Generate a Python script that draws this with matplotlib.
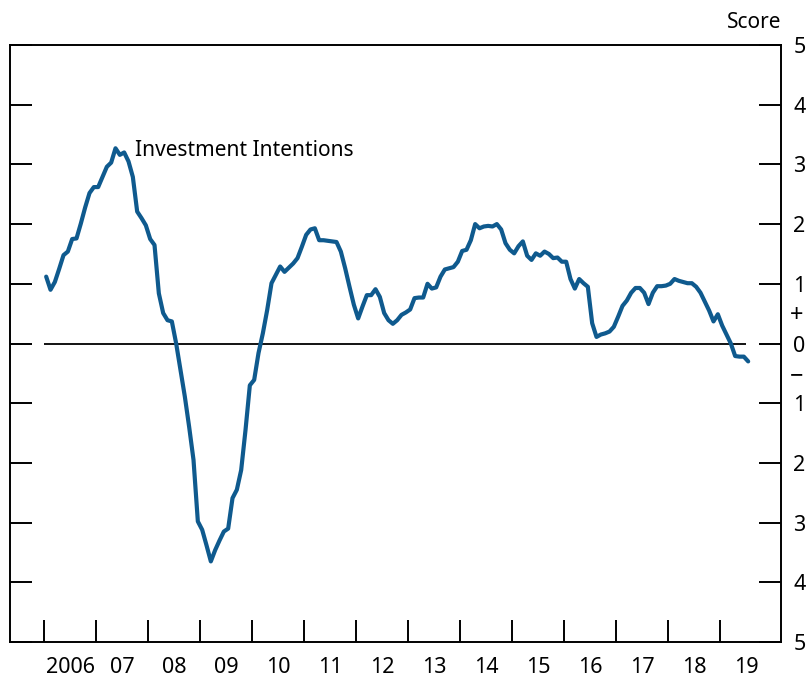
import numpy as np
import matplotlib
matplotlib.use("Agg")
from matplotlib import pyplot as plt
from matplotlib import transforms

plt.rcParams['font.family'] = ['Noto Sans', 'DejaVu Sans']

# monthly index values, Jan 2006 .. Jul 2019
vals_2006 = [1.12, 0.90, 1.03, 1.25, 1.48, 1.54, 1.75, 1.76, 2.01, 2.28, 2.52, 2.62]
vals_2007 = [2.62, 2.79, 2.96, 3.03, 3.27, 3.16, 3.20, 3.05, 2.79, 2.21, 2.10, 1.98]
vals_2008 = [1.75, 1.65, 0.84, 0.51, 0.39, 0.37, 0.00, -0.45, -0.89, -1.40, -1.95, -2.98]
vals_2009 = [-3.12, -3.38, -3.65, -3.46, -3.30, -3.15, -3.10, -2.59, -2.45, -2.12, -1.45, -0.70]
vals_2010 = [-0.61, -0.16, 0.17, 0.56, 1.01, 1.15, 1.29, 1.20, 1.27, 1.34, 1.43, 1.62]
vals_2011 = [1.82, 1.91, 1.93, 1.73, 1.73, 1.72, 1.71, 1.70, 1.54, 1.26, 0.95, 0.65]
vals_2012 = [0.42, 0.62, 0.81, 0.81, 0.91, 0.78, 0.51, 0.39, 0.33, 0.39, 0.48, 0.52]
vals_2013 = [0.57, 0.76, 0.77, 0.77, 1.00, 0.92, 0.94, 1.12, 1.24, 1.26, 1.28, 1.37]
vals_2014 = [1.55, 1.57, 1.73, 2.00, 1.93, 1.96, 1.97, 1.96, 2.00, 1.91, 1.68, 1.57]
vals_2015 = [1.51, 1.63, 1.71, 1.47, 1.40, 1.51, 1.47, 1.54, 1.50, 1.43, 1.44, 1.37]
vals_2016 = [1.37, 1.08, 0.92, 1.08, 1.01, 0.95, 0.34, 0.11, 0.15, 0.17, 0.20, 0.28]
vals_2017 = [0.45, 0.63, 0.72, 0.85, 0.93, 0.93, 0.85, 0.66, 0.85, 0.96, 0.96, 0.97]
vals_2018 = [1.00, 1.08, 1.05, 1.03, 1.01, 1.01, 0.95, 0.85, 0.70, 0.55, 0.37, 0.49]
vals_2019 = [0.30, 0.15, 0.00, -0.21, -0.22, -0.22, -0.30]

values = (vals_2006 + vals_2007 + vals_2008 + vals_2009 + vals_2010 + vals_2011 + vals_2012
          + vals_2013 + vals_2014 + vals_2015 + vals_2016 + vals_2017 + vals_2018 + vals_2019)

years = list(range(2006, 2020))
year_labels = ['2006', '07', '08', '09', '10', '11', '12', '13', '14', '15', '16', '17', '18', '19']

# mid-month positions
t = 2006 + (np.arange(len(values)) + 0.5) / 12.0

fig = plt.figure(figsize=(8.09, 6.79), dpi=100)
ax = fig.add_axes([10 / 809, 37 / 679, 771 / 809, 597 / 679])

ax.hlines(0, 2006, t[-1] - 0.05, color='black', lw=1.3, zorder=2)
ax.plot(t, values, color='#0f5a8e', lw=3.0, solid_capstyle='round', solid_joinstyle='round', zorder=3)

ax.set_xlim(2005.346, 2020.173)
ax.set_ylim(-5, 5)

for s in ax.spines.values():
    s.set_linewidth(1.4)

# x: ticks at year start, labels centred in the year
ax.set_xticks(years)
ax.set_xticklabels([])
ax.set_xticks([y + 0.5 for y in years], minor=True)
ax.set_xticklabels(year_labels, minor=True, fontsize=15.5)
ax.tick_params(axis='x', which='major', direction='in', length=16, width=1.4)
ax.tick_params(axis='x', which='minor', length=0, pad=11)

ax.set_yticks(range(-5, 6))
ax.set_yticklabels([str(abs(v)) for v in range(-5, 6)], fontsize=15.5)
ax.tick_params(axis='y', direction='in', length=16, width=1.4, left=True, right=True,
               labelleft=False, labelright=True, pad=9)

ax.text(2007.75, 3.24, 'Investment Intentions', fontsize=15, va='center', ha='left')

trans = transforms.blended_transform_factory(ax.transAxes, ax.transData)
ax.text(1.0205, 0.46, '+', transform=trans, fontsize=17, ha='center', va='center')
ax.text(1.0205, -0.55, '\u2212', transform=trans, fontsize=17, ha='center', va='center')
ax.text(1.0, 1.02, 'Score', transform=ax.transAxes, fontsize=15, ha='right', va='bottom')

fig.savefig('out.png', dpi=100)
